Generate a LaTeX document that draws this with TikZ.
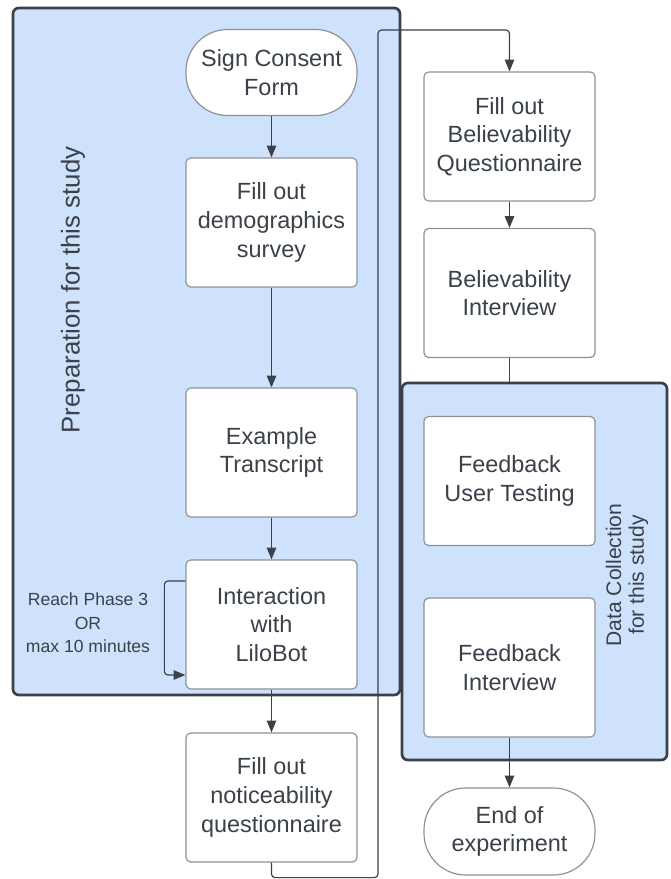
\documentclass[tikz,border=0pt]{standalone}
\usepackage{fontspec}
\setmainfont{Liberation Sans}
\usetikzlibrary{arrows.meta}
\usetikzlibrary{calc}

\definecolor{groupblue}{RGB}{207,226,252}
\definecolor{darkline}{RGB}{58,65,74}
\definecolor{greyline}{RGB}{140,145,152}

\begin{document}
\begin{tikzpicture}[x=0.03cm, y=-0.03cm,
    every node/.style={text=darkline, font=\fontsize{20}{24.5}\selectfont},
    group/.style={draw=darkline, line width=2.3pt, fill=groupblue, rounded corners=5pt, inner sep=0pt},
    stepbox/.style={draw=greyline, line width=1pt, fill=white, rounded corners=4pt, align=center, minimum width=5.13cm, minimum height=3.87cm, inner sep=2pt},
    terminal/.style={stepbox, rounded corners=1.25cm},
    link/.style={draw=darkline, line width=1pt, rounded corners=3pt},
    flow/.style={link, -{Triangle[length=10pt, width=8pt]}}]
    \useasboundingbox (0,0) rectangle (670,879);

    % groups
    \node[group, minimum width=11.61cm, minimum height=20.61cm] (prep) at (206.5,351.5) {};
    \node[group, minimum width=7.95cm, minimum height=11.31cm] (data) at (534.5,571.5) {};
    \node[rotate=90, font=\fontsize{22}{26}\selectfont] (preplabel) at (73,290) {Preparation for this study};
    \node[rotate=90, align=center, font=\fontsize{18}{19.5}\selectfont] (datalabel) at (627,575) {Data Collection\\for this study};

    % steps
    \node[terminal, minimum height=2.58cm] (1) at (271.5,72.5) {Sign Consent\\Form};
    \node[stepbox] (2) at (271.5,222.5) {Fill out\\demographics\\survey};
    \node[stepbox] (3) at (271.5,452.5) {Example\\Transcript};
    \node[stepbox] (4) at (271.5,624.5) {Interaction\\with\\LiloBot};
    \node[stepbox] (5) at (271.5,797.5) {Fill out\\noticeability\\questionnaire};
    \node[stepbox] (6) at (509.5,136.5) {Fill out\\Believability\\Questionnaire};
    \node[stepbox] (7) at (509.5,293) {Believability\\Interview};
    \node[stepbox] (8) at (509.5,481) {Feedback\\User Testing};
    \node[stepbox, minimum height=4.17cm] (9) at (509.5,667.5) {Feedback\\Interview};
    \node[terminal, minimum height=2.61cm] (10) at (509.5,831.5) {End of\\experiment};

    \node[align=center, font=\fontsize{15}{20}\selectfont] (looplabel) at (88,623) {Reach Phase 3\\OR\\max 10 minutes};

    \coordinate (loopstart) at ($(4.west)+(0,-43.5)$);
    \coordinate (loopend) at ($(4.west)+(0,50.5)$);
    \coordinate (turn) at (378,30);

    \draw[flow] (1) -- (2);
    \draw[flow] (2) -- (3);
    \draw[flow] (3) -- (4);
    \draw[flow] (loopstart) -- ++(-21,0) |- (loopend);
    \draw[flow] (4) -- (5);
    \draw[flow] (5.south) -- ++(0,15) -| (turn) -| (6.north);
    \draw[flow] (6) -- (7);
    \draw[link] (7.south) -- (7.south |- data.north);
    \draw[flow] (9) -- (10);
\end{tikzpicture}
\end{document}
